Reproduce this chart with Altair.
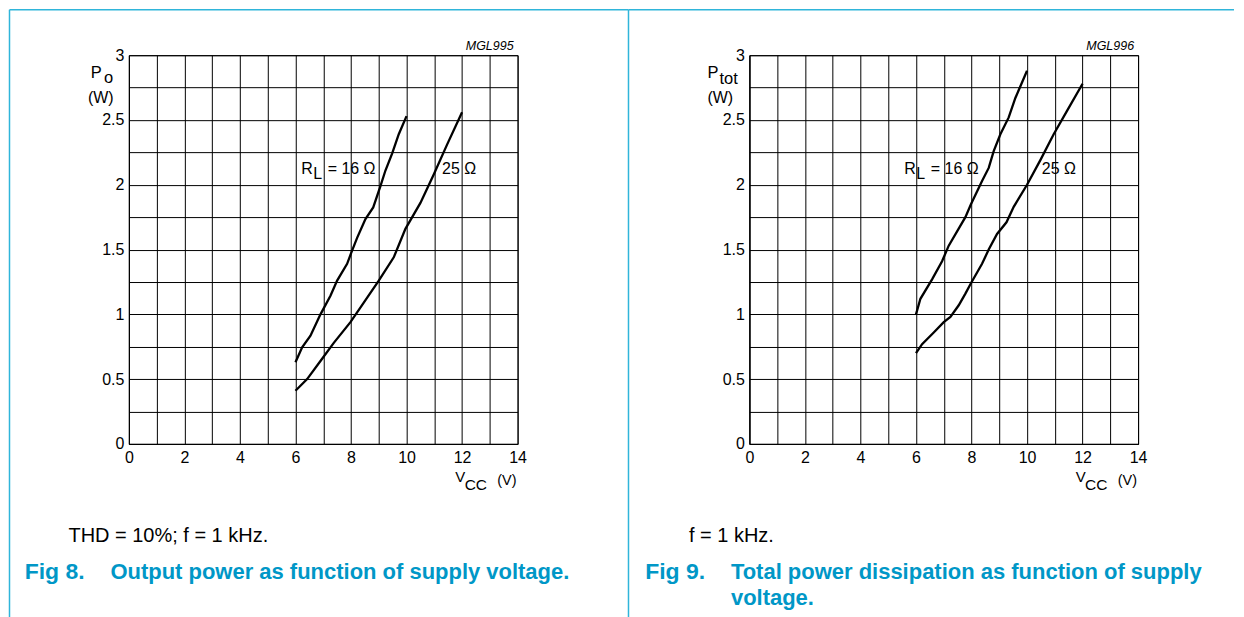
import altair as alt
import pandas as pd

# ---------------- data ----------------
x_ticks = list(range(0, 15))
y_ticks = [i * 0.25 for i in range(13)]

# Fig 8: output power vs supply voltage
f8_16_v = [6.0, 6.24, 6.54, 6.9, 7.26, 7.5, 7.86, 8.0, 8.22, 8.52, 8.8, 9.06, 9.24, 9.48, 9.72, 10.0]
f8_16_p = [0.63, 0.745, 0.835, 1.0, 1.144, 1.26, 1.39, 1.47, 1.59, 1.735, 1.825, 1.99, 2.11, 2.24, 2.39, 2.53]
f8_25_v = [6.0, 6.42, 6.9, 7.38, 7.98, 8.46, 9.0, 9.54, 9.96, 10.5, 10.98, 11.46, 12.0]
f8_25_p = [0.41, 0.50, 0.64, 0.78, 0.94, 1.09, 1.26, 1.44, 1.66, 1.86, 2.08, 2.31, 2.56]

# Fig 9: total power dissipation vs supply voltage
f9_16_v = [6.0, 6.16, 6.58, 6.94, 7.18, 7.78, 7.98, 8.38, 8.62, 8.8, 9.04, 9.34, 9.58, 10.0]
f9_16_p = [1.0, 1.12, 1.27, 1.41, 1.53, 1.75, 1.85, 2.03, 2.13, 2.26, 2.39, 2.52, 2.67, 2.88]
f9_25_v = [6.0, 6.22, 6.64, 7.0, 7.24, 7.54, 7.78, 7.98, 8.38, 8.62, 8.92, 9.26, 9.52, 10.0, 10.48, 10.96, 11.44, 12.0]
f9_25_p = [0.70, 0.77, 0.86, 0.94, 0.98, 1.07, 1.16, 1.24, 1.39, 1.50, 1.62, 1.71, 1.83, 2.0, 2.19, 2.39, 2.57, 2.78]

FONT = "Liberation Sans"
BORDER = "#2FB5DA"
CAPTION = "#0097C7"
W = 389
H = 389


def one():
    return pd.DataFrame({"k": [0]})


def txt(s, x, y, size=16, weight="normal", style="normal", color="#000", align="left"):
    return alt.Chart(one()).mark_text(
        text=s, font=FONT, fontSize=size, fontWeight=weight, fontStyle=style,
        color=color, align=align, baseline="alphabetic"
    ).encode(x=alt.value(x), y=alt.value(y))


def rule(x1, x2, y1, y2, color=BORDER, width=1.5):
    return alt.Chart(one()).mark_rule(color=color, strokeWidth=width).encode(
        x=alt.value(x1), x2=alt.value(x2), y=alt.value(y1), y2=alt.value(y2)
    )


def panel(v16, p16, v25, p25, sub, mgl, cond, fig_no, fig_title, fig_title2,
          sub_dx, lbl_x16, lbl_x25, left_x, top_x2):
    df = pd.DataFrame({
        "V": v16 + v25,
        "P": p16 + p25,
        "RL": ["16"] * len(v16) + ["25"] * len(v25),
    })
    lines = alt.Chart(df).mark_line(color="#000", strokeWidth=2.3, interpolate="linear").encode(
        x=alt.X("V:Q", scale=alt.Scale(domain=[0, 14], nice=False, zero=False),
                axis=alt.Axis(values=x_ticks, title=None,
                              labelExpr="datum.value % 2 == 0 ? datum.label : ''")),
        y=alt.Y("P:Q", scale=alt.Scale(domain=[0, 3], nice=False, zero=False),
                axis=alt.Axis(values=y_ticks, title=None, format="~g",
                              labelExpr="datum.value % 0.5 == 0 ? datum.label : ''")),
        detail="RL:N",
    )
    layers = [
        lines,
        # y-axis title
        txt("P", -38.3 if sub == "o" else -42, 22.7, size=16.5),
        txt(sub, sub_dx, 27.7 if sub == "o" else 28.7, size=16.5),
        txt("(W)", -41 if sub == "o" else -42, 47.7, size=16),
        # x-axis title
        txt("V", 326.7, 427.4, size=15),
        txt("CC", 336, 435.5, size=15.5),
        txt("(V)", 368.7, 429.7, size=14.5),
        # figure code
        txt(mgl, 385, -5, size=12.5, style="italic", align="right"),
        # curve labels
        txt("R", lbl_x16, 118.7),
        txt("L", lbl_x16 + 12, 123.7),
        txt("= 16 \u03a9", lbl_x16 + 26.5, 118.7),
        txt("25 \u03a9", lbl_x25, 118.7),
        # captions
        txt(cond, -60.5, 486.7, size=20),
        txt(fig_no, -104.3, 524.7, size=23, weight="bold", color=CAPTION),
        txt(fig_title, -18.5, 524.7, size=22, weight="bold", color=CAPTION),
        # borders
        rule(left_x, left_x, -45.5, 566),
        rule(left_x, top_x2, -45.5, -45.5),
    ]
    if fig_title2:
        layers.append(txt(fig_title2, -18.5, 550, size=22, weight="bold", color=CAPTION))
    return alt.layer(*layers).properties(width=W, height=H)


left = panel(f8_16_v, f8_16_p, f8_25_v, f8_25_p, "o", "MGL995",
             "THD = 10%; f = 1 kHz.", "Fig 8.",
             "Output power as function of supply voltage.", None,
             -25, 172.4, 313.4, -119.5, 500)
right = panel(f9_16_v, f9_16_p, f9_25_v, f9_25_p, "tot", "MGL996",
              "f = 1 kHz.", "Fig 9.",
              "Total power dissipation as function of supply", "voltage.",
              -30, 155, 292.7, -121, 485)

chart = alt.hconcat(left, right, spacing=232, bounds="flush").properties(
    padding=0, background="white"
).configure_view(
    stroke="#000", strokeWidth=1
).configure_axis(
    grid=True, gridColor="#000", gridWidth=1, gridOpacity=1,
    domainColor="#000", domainWidth=1, ticks=False,
    labelFont=FONT, labelFontSize=16, labelColor="#000",
    labelFlush=False, labelOverlap=False,
).configure_axisX(labelPadding=6).configure_axisY(labelPadding=5)

chart.save("out.html", embed_options={"renderer": "svg", "actions": False})
